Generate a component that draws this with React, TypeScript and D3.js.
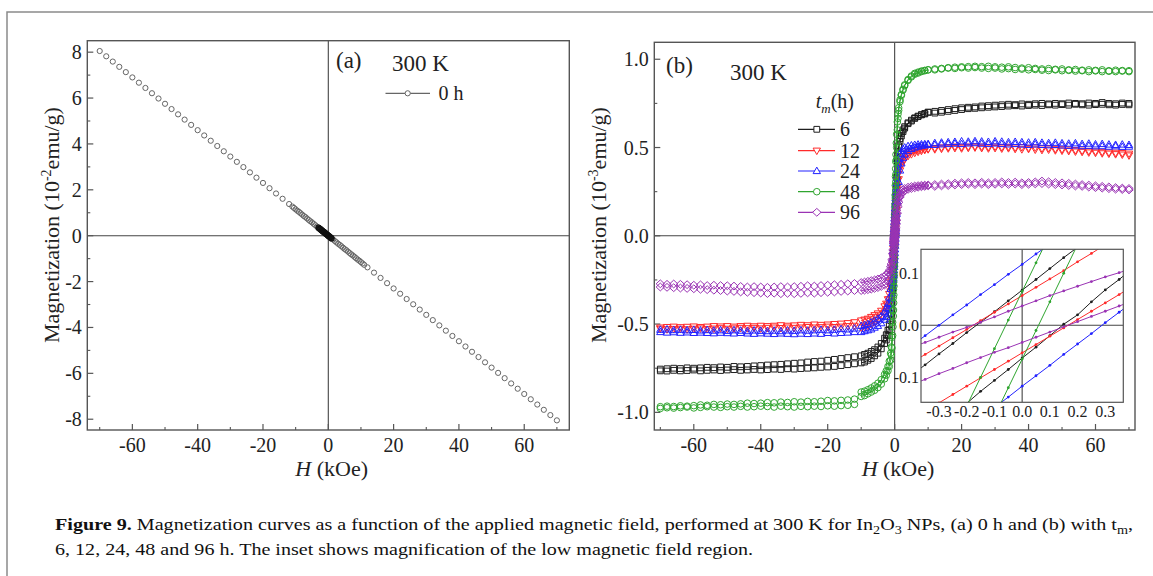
import React from 'react';
import * as d3 from 'd3';

// ---------------- Panel (a) data : H (kOe) vs M (10^-2 emu/g), 0 h ----------------
const fieldA = [
  -70, -68, -66, -64, -62, -60, -58, -56, -54, -52, -50, -48, -46, -44, -42, -40, -38, -36, -34, -32, -30, -28, -26, -24, -22, -20, -18, -16, -14, -12,
  -11, -10.5, -10, -9.5, -9, -8.5, -8, -7.5, -7, -6.5, -6, -5.5, -5, -4.5, -4, -3.5, -3, -2.5, -2, -1.5, -1, -0.5, 0,
  0.5, 1, 1.5, 2, 2.5, 3, 3.5, 4, 4.5, 5, 5.5, 6, 6.5, 7, 7.5, 8, 8.5, 9, 9.5, 10, 10.5, 11,
  12, 14, 16, 18, 20, 22, 24, 26, 28, 30, 32, 34, 36, 38, 40, 42, 44, 46, 48, 50, 52, 54, 56, 58, 60, 62, 64, 66, 68, 70,
];
const momentA = [
  8.05, 7.82, 7.59, 7.36, 7.13, 6.9, 6.67, 6.44, 6.21, 5.98, 5.75, 5.52, 5.29, 5.06, 4.83, 4.6, 4.37, 4.14, 3.91, 3.68, 3.45, 3.22, 2.99, 2.76, 2.53, 2.3, 2.07, 1.84, 1.61, 1.38,
  1.27, 1.21, 1.15, 1.09, 1.04, 0.98, 0.92, 0.86, 0.81, 0.75, 0.69, 0.63, 0.58, 0.52, 0.46, 0.4, 0.35, 0.29, 0.23, 0.17, 0.12, 0.06, 0,
  -0.06, -0.12, -0.17, -0.23, -0.29, -0.35, -0.4, -0.46, -0.52, -0.58, -0.63, -0.69, -0.75, -0.81, -0.86, -0.92, -0.98, -1.04, -1.09, -1.15, -1.21, -1.27,
  -1.38, -1.61, -1.84, -2.07, -2.3, -2.53, -2.76, -2.99, -3.22, -3.45, -3.68, -3.91, -4.14, -4.37, -4.6, -4.83, -5.06, -5.29, -5.52, -5.75, -5.98, -6.21, -6.44, -6.67, -6.9, -7.13, -7.36, -7.59, -7.82, -8.05,
];
const denseFieldA = [-3, -2.8, -2.6, -2.4, -2.2, -2, -1.8, -1.6, -1.4, -1.2, -1, -0.8, -0.6, -0.4, -0.2, 0, 0.2, 0.4, 0.6, 0.8, 1];
const denseMomentA = [0.35, 0.32, 0.3, 0.28, 0.25, 0.23, 0.21, 0.18, 0.16, 0.14, 0.12, 0.09, 0.07, 0.05, 0.02, 0, -0.02, -0.05, -0.07, -0.09, -0.12];

// ---------------- Panel (b) data : H (kOe) vs M (10^-3 emu/g) ----------------
const fieldLow = [
  -10, -9, -8, -7, -6, -5, -4, -3,
  -2.5, -2, -1.6, -1.2, -1, -0.8, -0.6, -0.5,
  -0.4, -0.35, -0.3, -0.25, -0.2, -0.15, -0.1, -0.05,
  0,
  0.05, 0.1, 0.15, 0.2, 0.25, 0.3, 0.35, 0.4,
  0.5, 0.6, 0.8, 1, 1.2, 1.6, 2, 2.5,
  3, 4, 5, 6, 7, 8, 9, 10,
];
const fieldHighPos = [12, 14, 16, 18, 20, 22, 24, 26, 28, 30, 32, 34, 36, 38, 40, 42, 44, 46, 48, 50, 52, 54, 56, 58, 60, 62, 64, 66, 68, 70];
const fieldHighNeg = [-12, -14, -16, -18, -20, -22, -24, -26, -28, -30, -32, -34, -36, -38, -40, -42, -44, -46, -48, -50, -52, -54, -56, -58, -60, -62, -64, -66, -68, -70];

const seriesLabels = ['6', '12', '24', '48', '96'];

// 6 h
const m6Up = [
  -0.72, -0.715, -0.705, -0.695, -0.68, -0.665, -0.64, -0.61,
  -0.59, -0.565, -0.535, -0.48, -0.44, -0.38, -0.31, -0.27,
  -0.23, -0.21, -0.19, -0.17, -0.15, -0.127, -0.106, -0.085,
  -0.063,
  -0.042, -0.02, 0.002, 0.02, 0.045, 0.068, 0.088, 0.11,
  0.16, 0.215, 0.32, 0.42, 0.48, 0.535, 0.565, 0.59,
  0.61, 0.635, 0.65, 0.665, 0.675, 0.685, 0.69, 0.7,
];
const m6Down = [
  -0.68, -0.672, -0.665, -0.655, -0.645, -0.63, -0.61, -0.58,
  -0.56, -0.535, -0.5, -0.44, -0.38, -0.29, -0.19, -0.14,
  -0.096, -0.076, -0.055, -0.035, -0.014, 0.006, 0.026, 0.047,
  0.0675,
  0.088, 0.109, 0.13, 0.15, 0.17, 0.19, 0.21, 0.235,
  0.28, 0.33, 0.41, 0.47, 0.51, 0.55, 0.58, 0.6,
  0.618, 0.64, 0.655, 0.668, 0.678, 0.686, 0.693, 0.7,
];
const m6PosA = [0.705, 0.71, 0.715, 0.72, 0.725, 0.728, 0.73, 0.735, 0.737, 0.74, 0.742, 0.745, 0.743, 0.747, 0.745, 0.748, 0.75, 0.747, 0.75, 0.748, 0.752, 0.75, 0.748, 0.752, 0.75, 0.755, 0.75, 0.748, 0.752, 0.75];
const m6PosB = [0.695, 0.7, 0.705, 0.71, 0.715, 0.72, 0.722, 0.725, 0.728, 0.73, 0.732, 0.735, 0.737, 0.735, 0.738, 0.74, 0.738, 0.742, 0.74, 0.743, 0.74, 0.745, 0.742, 0.74, 0.743, 0.745, 0.742, 0.74, 0.744, 0.742];
const m6NegA = [-0.685, -0.69, -0.695, -0.7, -0.705, -0.71, -0.712, -0.715, -0.72, -0.722, -0.725, -0.728, -0.73, -0.732, -0.735, -0.737, -0.74, -0.742, -0.74, -0.745, -0.743, -0.747, -0.745, -0.748, -0.75, -0.748, -0.752, -0.75, -0.753, -0.755];
const m6NegB = [-0.725, -0.73, -0.735, -0.74, -0.743, -0.745, -0.748, -0.75, -0.752, -0.755, -0.753, -0.757, -0.755, -0.758, -0.76, -0.757, -0.76, -0.762, -0.758, -0.76, -0.763, -0.76, -0.762, -0.765, -0.76, -0.763, -0.765, -0.762, -0.766, -0.765];

// 12 h
const m12Up = [
  -0.52, -0.515, -0.51, -0.5, -0.49, -0.478, -0.46, -0.435,
  -0.415, -0.39, -0.36, -0.315, -0.285, -0.25, -0.215, -0.197,
  -0.178, -0.166, -0.149, -0.133, -0.117, -0.101, -0.085, -0.069,
  -0.053,
  -0.037, -0.021, -0.005, 0.011, 0.027, 0.043, 0.059, 0.076,
  0.11, 0.148, 0.22, 0.28, 0.32, 0.37, 0.4, 0.42,
  0.435, 0.452, 0.462, 0.47, 0.476, 0.481, 0.486, 0.49,
];
const m12Down = [
  -0.48, -0.475, -0.47, -0.46, -0.45, -0.44, -0.425, -0.4,
  -0.385, -0.36, -0.33, -0.29, -0.26, -0.215, -0.16, -0.12,
  -0.072, -0.056, -0.04, -0.024, -0.008, 0.009, 0.025, 0.041,
  0.057,
  0.073, 0.089, 0.105, 0.122, 0.138, 0.155, 0.172, 0.19,
  0.225, 0.26, 0.31, 0.35, 0.38, 0.415, 0.435, 0.452,
  0.462, 0.472, 0.478, 0.483, 0.486, 0.489, 0.491, 0.493,
];
const m12PosA = [0.497, 0.5, 0.502, 0.505, 0.503, 0.505, 0.507, 0.505, 0.503, 0.505, 0.502, 0.504, 0.5, 0.502, 0.498, 0.5, 0.495, 0.497, 0.492, 0.49, 0.488, 0.485, 0.482, 0.48, 0.477, 0.475, 0.472, 0.47, 0.468, 0.465];
const m12PosB = [0.49, 0.493, 0.495, 0.497, 0.495, 0.498, 0.5, 0.497, 0.495, 0.497, 0.494, 0.496, 0.492, 0.49, 0.492, 0.488, 0.486, 0.488, 0.484, 0.482, 0.48, 0.477, 0.475, 0.472, 0.47, 0.467, 0.465, 0.462, 0.46, 0.455];
const m12NegA = [-0.49, -0.495, -0.498, -0.5, -0.503, -0.505, -0.503, -0.507, -0.505, -0.508, -0.51, -0.507, -0.51, -0.512, -0.51, -0.513, -0.51, -0.512, -0.515, -0.512, -0.514, -0.512, -0.515, -0.517, -0.514, -0.516, -0.518, -0.515, -0.517, -0.52];
const m12NegB = [-0.51, -0.512, -0.515, -0.517, -0.515, -0.518, -0.52, -0.517, -0.52, -0.522, -0.52, -0.523, -0.52, -0.522, -0.525, -0.522, -0.524, -0.522, -0.525, -0.527, -0.524, -0.526, -0.528, -0.525, -0.527, -0.53, -0.527, -0.528, -0.53, -0.527];

// 24 h
const m24Up = [
  -0.545, -0.54, -0.535, -0.53, -0.52, -0.51, -0.495, -0.475,
  -0.46, -0.44, -0.415, -0.38, -0.355, -0.325, -0.29, -0.27,
  -0.25, -0.238, -0.225, -0.21, -0.195, -0.177, -0.158, -0.138,
  -0.117,
  -0.097, -0.077, -0.056, -0.036, -0.016, 0.005, 0.025, 0.045,
  0.085, 0.125, 0.195, 0.255, 0.305, 0.37, 0.41, 0.44,
  0.46, 0.48, 0.492, 0.5, 0.505, 0.51, 0.512, 0.515,
];
const m24Down = [
  -0.51, -0.505, -0.5, -0.49, -0.48, -0.47, -0.455, -0.43,
  -0.41, -0.385, -0.35, -0.3, -0.26, -0.2, -0.13, -0.09,
  -0.04, -0.02, 0, 0.02, 0.039, 0.059, 0.078, 0.098,
  0.117,
  0.137, 0.156, 0.176, 0.195, 0.214, 0.232, 0.25, 0.268,
  0.3, 0.33, 0.375, 0.41, 0.435, 0.465, 0.48, 0.492,
  0.5, 0.508, 0.512, 0.515, 0.517, 0.518, 0.519, 0.52,
];
const m24PosA = [0.525, 0.528, 0.53, 0.532, 0.535, 0.533, 0.536, 0.534, 0.532, 0.535, 0.533, 0.53, 0.532, 0.53, 0.528, 0.53, 0.527, 0.525, 0.527, 0.524, 0.522, 0.524, 0.52, 0.522, 0.518, 0.52, 0.517, 0.515, 0.517, 0.515];
const m24PosB = [0.515, 0.518, 0.52, 0.522, 0.52, 0.523, 0.525, 0.522, 0.52, 0.523, 0.52, 0.518, 0.52, 0.517, 0.515, 0.518, 0.515, 0.513, 0.515, 0.512, 0.51, 0.512, 0.508, 0.51, 0.507, 0.508, 0.505, 0.507, 0.504, 0.505];
const m24NegA = [-0.525, -0.53, -0.528, -0.532, -0.535, -0.532, -0.535, -0.537, -0.535, -0.538, -0.536, -0.54, -0.537, -0.54, -0.538, -0.536, -0.54, -0.537, -0.535, -0.538, -0.535, -0.537, -0.534, -0.536, -0.533, -0.535, -0.532, -0.534, -0.53, -0.532];
const m24NegB = [-0.545, -0.548, -0.55, -0.553, -0.55, -0.555, -0.553, -0.556, -0.554, -0.557, -0.555, -0.553, -0.556, -0.554, -0.552, -0.555, -0.553, -0.55, -0.553, -0.551, -0.549, -0.552, -0.55, -0.548, -0.55, -0.547, -0.549, -0.546, -0.548, -0.545];

// 48 h
const m48Up = [
  -0.91, -0.905, -0.895, -0.885, -0.875, -0.86, -0.84, -0.81,
  -0.79, -0.765, -0.74, -0.705, -0.675, -0.635, -0.565, -0.515,
  -0.455, -0.42, -0.38, -0.335, -0.285, -0.23, -0.175, -0.12,
  -0.065,
  -0.01, 0.045, 0.1, 0.155, 0.21, 0.26, 0.305, 0.35,
  0.43, 0.5, 0.6, 0.665, 0.71, 0.76, 0.795, 0.825,
  0.85, 0.88, 0.9, 0.915, 0.922, 0.93, 0.935, 0.94,
];
const m48Down = [
  -0.885, -0.88, -0.872, -0.862, -0.85, -0.835, -0.815, -0.785,
  -0.765, -0.74, -0.71, -0.665, -0.63, -0.575, -0.49, -0.425,
  -0.35, -0.305, -0.26, -0.21, -0.155, -0.1, -0.045, 0.01,
  0.065,
  0.12, 0.175, 0.23, 0.285, 0.335, 0.38, 0.42, 0.46,
  0.525, 0.575, 0.645, 0.69, 0.725, 0.77, 0.8, 0.83,
  0.855, 0.885, 0.905, 0.92, 0.927, 0.933, 0.937, 0.94,
];
const m48PosA = [0.945, 0.948, 0.952, 0.955, 0.957, 0.958, 0.96, 0.958, 0.96, 0.957, 0.955, 0.957, 0.953, 0.95, 0.952, 0.948, 0.945, 0.947, 0.943, 0.945, 0.94, 0.942, 0.938, 0.94, 0.937, 0.94, 0.935, 0.938, 0.936, 0.935];
const m48PosB = [0.94, 0.945, 0.95, 0.948, 0.952, 0.95, 0.953, 0.95, 0.948, 0.95, 0.945, 0.947, 0.942, 0.944, 0.94, 0.942, 0.938, 0.936, 0.94, 0.935, 0.937, 0.933, 0.935, 0.93, 0.934, 0.93, 0.932, 0.93, 0.933, 0.93];
const m48NegA = [-0.925, -0.93, -0.932, -0.935, -0.933, -0.937, -0.94, -0.938, -0.942, -0.94, -0.944, -0.942, -0.946, -0.945, -0.948, -0.95, -0.948, -0.952, -0.955, -0.953, -0.957, -0.955, -0.96, -0.958, -0.962, -0.965, -0.963, -0.967, -0.965, -0.968];
const m48NegB = [-0.955, -0.96, -0.962, -0.965, -0.963, -0.967, -0.965, -0.968, -0.966, -0.97, -0.968, -0.965, -0.97, -0.967, -0.965, -0.968, -0.97, -0.966, -0.97, -0.968, -0.972, -0.97, -0.968, -0.972, -0.975, -0.97, -0.973, -0.976, -0.974, -0.978];

// 96 h
const m96Up = [
  -0.31, -0.308, -0.305, -0.302, -0.298, -0.293, -0.287, -0.278,
  -0.27, -0.26, -0.245, -0.22, -0.2, -0.175, -0.148, -0.133,
  -0.114, -0.104, -0.093, -0.083, -0.072, -0.062, -0.052, -0.043,
  -0.033,
  -0.023, -0.013, -0.003, 0.007, 0.017, 0.027, 0.037, 0.047,
  0.067, 0.088, 0.128, 0.165, 0.19, 0.22, 0.237, 0.248,
  0.255, 0.263, 0.268, 0.272, 0.275, 0.278, 0.28, 0.283,
];
const m96Down = [
  -0.265, -0.262, -0.258, -0.254, -0.25, -0.245, -0.238, -0.228,
  -0.22, -0.21, -0.196, -0.175, -0.16, -0.135, -0.1, -0.08,
  -0.042, -0.033, -0.023, -0.013, -0.004, 0.006, 0.016, 0.027,
  0.037,
  0.047, 0.057, 0.066, 0.075, 0.084, 0.093, 0.101, 0.11,
  0.127, 0.145, 0.175, 0.2, 0.218, 0.24, 0.253, 0.262,
  0.268, 0.275, 0.279, 0.282, 0.284, 0.286, 0.287, 0.288,
];
const m96PosA = [0.29, 0.293, 0.295, 0.298, 0.3, 0.302, 0.3, 0.303, 0.3, 0.302, 0.305, 0.302, 0.304, 0.3, 0.302, 0.305, 0.31, 0.306, 0.302, 0.3, 0.297, 0.293, 0.29, 0.287, 0.283, 0.28, 0.277, 0.273, 0.27, 0.268];
const m96PosB = [0.28, 0.283, 0.285, 0.288, 0.29, 0.292, 0.29, 0.293, 0.29, 0.292, 0.294, 0.291, 0.293, 0.29, 0.292, 0.294, 0.296, 0.293, 0.29, 0.288, 0.285, 0.282, 0.28, 0.276, 0.273, 0.27, 0.267, 0.264, 0.262, 0.26];
const m96NegA = [-0.27, -0.272, -0.275, -0.277, -0.28, -0.282, -0.285, -0.283, -0.286, -0.288, -0.29, -0.288, -0.29, -0.292, -0.29, -0.288, -0.29, -0.287, -0.285, -0.283, -0.282, -0.28, -0.282, -0.278, -0.28, -0.277, -0.275, -0.273, -0.275, -0.272];
const m96NegB = [-0.31, -0.313, -0.315, -0.318, -0.32, -0.322, -0.325, -0.323, -0.326, -0.328, -0.326, -0.328, -0.325, -0.327, -0.324, -0.322, -0.32, -0.318, -0.315, -0.313, -0.31, -0.308, -0.305, -0.303, -0.3, -0.298, -0.296, -0.294, -0.292, -0.29];

// ---------------- ticks ----------------
const ticksAX = [-60, -40, -20, 0, 20, 40, 60];
const minorAX = [-70, -50, -30, -10, 10, 30, 50, 70];
const ticksAY = [-8, -6, -4, -2, 0, 2, 4, 6, 8];
const minorAY = [-7, -5, -3, -1, 1, 3, 5, 7];
const ticksBX = [-60, -40, -20, 0, 20, 40, 60];
const minorBX = [-70, -50, -30, -10, 10, 30, 50, 70];
const ticksBY = [-1, -0.5, 0, 0.5, 1];
const minorBY = [-0.75, -0.25, 0.25, 0.75];
const ticksIX = [-0.3, -0.2, -0.1, 0, 0.1, 0.2, 0.3];
const ticksIY = [-0.1, 0, 0.1];

const FONT = "'Liberation Serif', 'Times New Roman', serif";
const AXC = '#555';
const TXT = '#222';

const f1 = (v: number) => d3.format('.1f')(v).replace('\u2212', '-');
const f0 = (v: number) => d3.format('d')(v).replace('\u2212', '-');

type Sym = 'square' | 'down' | 'up' | 'circle' | 'diamond';
const symPath: Record<Sym, string> = {
  square: 'M-2.9,-2.9H2.9V2.9H-2.9Z',
  down: 'M0,3.9L3.7,-2.6L-3.7,-2.6Z',
  up: 'M0,-3.9L3.7,2.6L-3.7,2.6Z',
  circle: d3.symbol().type(d3.symbolCircle).size(34)() as string,
  diamond: 'M0,-3.9L4.2,0L0,3.9L-4.2,0Z',
};

const seriesB = [
  { label: seriesLabels[0], color: '#1e1e1e', sym: 'square' as Sym, up: m6Up, down: m6Down, posA: m6PosA, posB: m6PosB, negA: m6NegA, negB: m6NegB },
  { label: seriesLabels[1], color: '#ff2a2a', sym: 'down' as Sym, up: m12Up, down: m12Down, posA: m12PosA, posB: m12PosB, negA: m12NegA, negB: m12NegB },
  { label: seriesLabels[2], color: '#2222ff', sym: 'up' as Sym, up: m24Up, down: m24Down, posA: m24PosA, posB: m24PosB, negA: m24NegA, negB: m24NegB },
  { label: seriesLabels[3], color: '#2fa52f', sym: 'circle' as Sym, up: m48Up, down: m48Down, posA: m48PosA, posB: m48PosB, negA: m48NegA, negB: m48NegB },
  { label: seriesLabels[4], color: '#9a33b4', sym: 'diamond' as Sym, up: m96Up, down: m96Down, posA: m96PosA, posB: m96PosB, negA: m96NegA, negB: m96NegB },
];

type Pt = { h: number; m: number };
const zip = (hs: number[], ms: number[]): Pt[] => hs.map((h, i) => ({ h, m: ms[i] }));

function Frame(props: {
  xs: d3.ScaleLinear<number, number>; ys: d3.ScaleLinear<number, number>;
  xMajor: number[]; xMinor: number[]; yMajor: number[]; yMinor: number[];
  fx: (v: number) => string; fy: (v: number) => string;
}) {
  const { xs, ys } = props;
  const [x0, x1] = xs.range();
  const [yb, yt] = ys.range();
  return (
    <g>
      <line x1={xs(0)} x2={xs(0)} y1={yt} y2={yb} stroke="#444" strokeWidth={1.1} />
      <line x1={x0} x2={x1} y1={ys(0)} y2={ys(0)} stroke="#444" strokeWidth={1.1} />
      <rect x={x0} y={yt} width={x1 - x0} height={yb - yt} fill="none" stroke={AXC} strokeWidth={1.4} />
      {props.xMajor.map((v) => (
        <line key={'xM' + v} x1={xs(v)} x2={xs(v)} y1={yb} y2={yb - 6} stroke={AXC} strokeWidth={1.2} />
      ))}
      {props.xMinor.map((v) => (
        <line key={'xm' + v} x1={xs(v)} x2={xs(v)} y1={yb} y2={yb - 3} stroke={AXC} strokeWidth={1.1} />
      ))}
      {props.yMajor.map((v) => (
        <line key={'yM' + v} x1={x0} x2={x0 + 6} y1={ys(v)} y2={ys(v)} stroke={AXC} strokeWidth={1.2} />
      ))}
      {props.yMinor.map((v) => (
        <line key={'ym' + v} x1={x0} x2={x0 + 3} y1={ys(v)} y2={ys(v)} stroke={AXC} strokeWidth={1.1} />
      ))}
      {props.xMajor.map((v) => (
        <text key={'xl' + v} x={xs(v)} y={yb + 22} textAnchor="middle" fontSize={20} fill={TXT}>{props.fx(v)}</text>
      ))}
      {props.yMajor.map((v) => (
        <text key={'yl' + v} x={x0 - 5.5} y={ys(v)} dy="0.35em" textAnchor="end" fontSize={20} fill={TXT}>{props.fy(v)}</text>
      ))}
    </g>
  );
}

export default function App() {
  // panel (a)
  const xA = d3.scaleLinear().domain([-73.8, 73.8]).range([87.3, 569.3]);
  const yA = d3.scaleLinear().domain([-8.47, 8.5]).range([430, 40.7]);
  // panel (b)
  const xB = d3.scaleLinear().domain([-71.8, 71.8]).range([654.3, 1135]);
  const yB = d3.scaleLinear().domain([-1.1, 1.096]).range([430, 42.3]);
  // inset
  const xI = d3.scaleLinear().domain([-0.365, 0.365]).range([921, 1123.3]);
  const yI = d3.scaleLinear().domain([-0.148, 0.146]).range([402.3, 249.3]);

  const ptsA = zip(fieldA, momentA);
  const ptsDense = zip(denseFieldA, denseMomentA);

  const lineB = d3.line<Pt>().x((d) => xB(d.h)).y((d) => yB(d.m));
  const lineI = d3.line<Pt>().x((d) => xI(d.h)).y((d) => yI(d.m));

  const legendRows = [129.3, 150.7, 171, 191.7, 212.3];

  return (
    <svg width={1153} height={576} style={{ position: 'absolute', left: 0, top: 0, background: '#fff' }} fontFamily={FONT}>
      <defs>
        <clipPath id="clipA"><rect x={87.3} y={40.7} width={482} height={389.3} /></clipPath>
        <clipPath id="clipB"><rect x={654.3} y={42.3} width={480.7} height={387.7} /></clipPath>
        <clipPath id="clipI"><rect x={921} y={249.3} width={202.3} height={153} /></clipPath>
      </defs>
      <rect x={0} y={0} width={1153} height={576} fill="#fff" />
      {/* outer frame */}
      <path d="M7,576V12H1153" fill="none" stroke="#8a8a8a" strokeWidth={1.5} />

      {/* ---------------- panel (a) ---------------- */}
      <Frame xs={xA} ys={yA} xMajor={ticksAX} xMinor={minorAX} yMajor={ticksAY} yMinor={minorAY} fx={f0} fy={f0} />
      <g clipPath="url(#clipA)">
        {ptsA.map((p, i) => (
          <circle key={'a' + i} cx={xA(p.h)} cy={yA(p.m)} r={2.6} fill="none" stroke="#666" strokeWidth={1} />
        ))}
        {ptsDense.map((p, i) => (
          <circle key={'ad' + i} cx={xA(p.h)} cy={yA(p.m)} r={2.6} fill="none" stroke="#111" strokeWidth={1.1} />
        ))}
      </g>
      <text x={336} y={68} fontSize={23} fill={TXT}>(a)</text>
      <text x={392} y={71} fontSize={23} fill={TXT}>300 K</text>
      <line x1={385.5} x2={430} y1={93.3} y2={93.3} stroke="#666" strokeWidth={1.2} />
      <circle cx={407.7} cy={93.3} r={2.6} fill="#fff" stroke="#666" strokeWidth={1} />
      <text x={438.4} y={100} fontSize={20} fill={TXT}>0 h</text>
      <text x={331.7} y={476} textAnchor="middle" fontSize={22} fill={TXT}>
        <tspan fontStyle="italic">H</tspan>{' (kOe)'}
      </text>
      <text transform="translate(59,225) rotate(-90)" textAnchor="middle" fontSize={22} fill={TXT}>
        Magnetization (10<tspan dy={-8} fontSize={14}>-2</tspan><tspan dy={8}>emu/g)</tspan>
      </text>

      {/* ---------------- panel (b) ---------------- */}
      <Frame xs={xB} ys={yB} xMajor={ticksBX} xMinor={minorBX} yMajor={ticksBY} yMinor={minorBY} fx={f0} fy={f1} />
      <g clipPath="url(#clipB)">
        {seriesB.map((s) => {
          const low = [zip(fieldLow, s.up), zip(fieldLow, s.down)];
          const pts = [
            ...zip(fieldHighNeg, s.negA), ...zip(fieldHighNeg, s.negB),
            ...low[0], ...low[1],
            ...zip(fieldHighPos, s.posA), ...zip(fieldHighPos, s.posB),
          ];
          return (
            <g key={'s' + s.label}>
              {low.map((l, j) => (
                <path key={'l' + j} d={lineB(l) as string} fill="none" stroke={s.color} strokeWidth={1} />
              ))}
              {pts.map((p, i) => (
                <path key={i} d={symPath[s.sym]} transform={`translate(${xB(p.h)},${yB(p.m)})`} fill="none" stroke={s.color} strokeWidth={1} />
              ))}
            </g>
          );
        })}
      </g>
      <text x={666} y={73} fontSize={23} fill={TXT}>(b)</text>
      <text x={730} y={80} fontSize={23} fill={TXT}>300 K</text>
      <text x={815.7} y={108} fontSize={20} fill={TXT}>
        <tspan fontStyle="italic">t</tspan>
        <tspan fontStyle="italic" fontSize={13} dy={5}>m</tspan>
        <tspan dy={-5}>(h)</tspan>
      </text>
      {seriesB.map((s, i) => (
        <g key={'lg' + s.label}>
          <line x1={798} x2={835} y1={legendRows[i]} y2={legendRows[i]} stroke={s.color} strokeWidth={1.2} />
          <path d={symPath[s.sym]} transform={`translate(816.8,${legendRows[i]})`} fill="#fff" stroke={s.color} strokeWidth={1} />
          <text x={840} y={legendRows[i] + 7} fontSize={20} fill={TXT}>{s.label}</text>
        </g>
      ))}
      <text x={898} y={476} textAnchor="middle" fontSize={22} fill={TXT}>
        <tspan fontStyle="italic">H</tspan>{' (kOe)'}
      </text>
      <text transform="translate(606,225) rotate(-90)" textAnchor="middle" fontSize={22} fill={TXT}>
        Magnetization (10<tspan dy={-8} fontSize={14}>-3</tspan><tspan dy={8}>emu/g)</tspan>
      </text>

      {/* ---------------- inset ---------------- */}
      <rect x={921} y={249.3} width={202.3} height={153} fill="#fff" />
      <g clipPath="url(#clipI)">
        <line x1={xI(0)} x2={xI(0)} y1={249.3} y2={402.3} stroke="#444" strokeWidth={1.1} />
        <line x1={921} x2={1123.3} y1={yI(0)} y2={yI(0)} stroke="#444" strokeWidth={1.1} />
        {seriesB.map((s) => {
          const branches = [zip(fieldLow, s.up), zip(fieldLow, s.down)];
          return (
            <g key={'i' + s.label}>
              {branches.map((b, j) => (
                <g key={j}>
                  <path d={lineI(b) as string} fill="none" stroke={s.color} strokeWidth={1} />
                  {b.map((p, k) => (
                    <circle key={k} cx={xI(p.h)} cy={yI(p.m)} r={1.4} fill={s.color} />
                  ))}
                </g>
              ))}
            </g>
          );
        })}
      </g>
      <rect x={921} y={249.3} width={202.3} height={153} fill="none" stroke={AXC} strokeWidth={1.2} />
      {ticksIX.map((v) => (
        <text key={'ix' + v} x={xI(v)} y={417} textAnchor="middle" fontSize={16} fill={TXT}>{f1(v)}</text>
      ))}
      {ticksIY.map((v) => (
        <text key={'iy' + v} x={919} y={yI(v)} dy="0.35em" textAnchor="end" fontSize={16} fill={TXT}>{f1(v)}</text>
      ))}

      {/* ---------------- caption ---------------- */}
      <text x={55} y={530} fontSize={17} fill="#111" textLength={1078} lengthAdjust="spacingAndGlyphs">
        <tspan fontWeight="bold">Figure 9.</tspan>
        {' Magnetization curves as a function of the applied magnetic field, performed at 300 K for In'}
        <tspan dy={4} fontSize={12}>2</tspan>
        <tspan dy={-4}>O</tspan>
        <tspan dy={4} fontSize={12}>3</tspan>
        <tspan dy={-4}>{' NPs, (a) 0 h and (b) with t'}</tspan>
        <tspan dy={4} fontSize={12}>m</tspan>
        <tspan dy={-4}>,</tspan>
      </text>
      <text x={55} y={555} fontSize={17} fill="#111" textLength={698} lengthAdjust="spacingAndGlyphs">
        6, 12, 24, 48 and 96 h. The inset shows magnification of the low magnetic field region.
      </text>
    </svg>
  );
}
